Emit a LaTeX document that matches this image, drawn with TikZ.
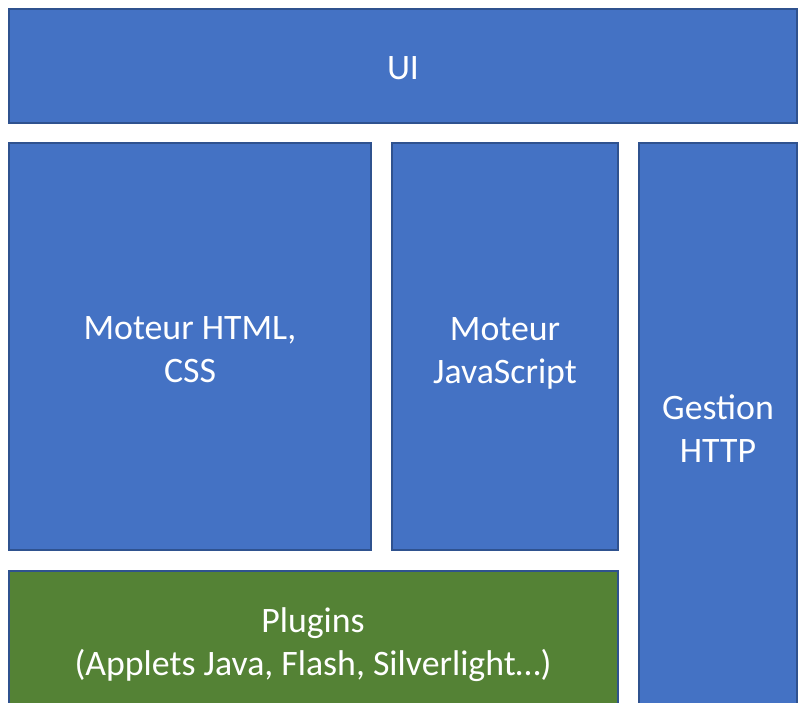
\documentclass[tikz,border=0pt]{standalone}
\usepackage{fontspec}
\setmainfont{Carlito}
\definecolor{boxblue}{HTML}{4472C4}
\definecolor{boxgreen}{HTML}{548235}
\definecolor{edgeblue}{HTML}{2F528F}
\begin{document}
\begin{tikzpicture}[x=1pt,y=-1pt,
  layer/.style={draw=edgeblue,line width=2pt,fill=boxblue},
  greenlayer/.style={layer,fill=boxgreen},
  lbl/.style={text=white,align=center,font=\fontsize{35.8}{43}\selectfont}]
\useasboundingbox (0,0) rectangle (798,703);
\clip (0,0) rectangle (798,703);
% boxes
\draw[layer] (9,9) rectangle (797,123);
\draw[layer] (9,143) rectangle (371,550);
\draw[layer] (392,143) rectangle (618,550);
\draw[layer] (639,143) rectangle (797,713);
\draw[greenlayer] (9,571) rectangle (618,713);
% labels
\node[lbl] (ui) at (403,68) {UI};
\node[lbl] (html) at (190,350) {Moteur HTML,\\CSS};
\node[lbl] (js) at (505,353) {Moteur\\JavaScript};
\node[lbl] (http) at (718,429) {Gestion\\HTTP};
\node[lbl] (plugins) at (313,645) {Plugins\\(Applets Java, Flash, Silverlight…)};
\end{tikzpicture}
\end{document}
